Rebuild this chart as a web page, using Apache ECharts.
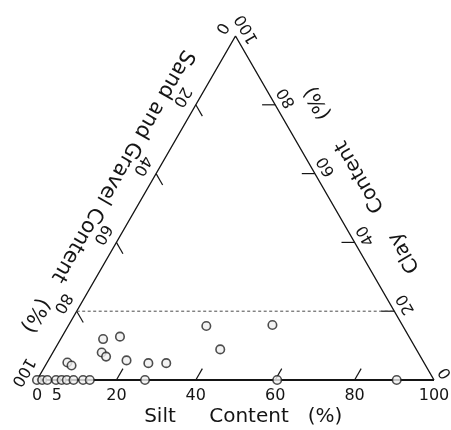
<!DOCTYPE html>
<html>
<head>
<meta charset="utf-8">
<script src="https://cdn.jsdelivr.net/npm/echarts@6/dist/echarts.min.js"></script>
<style>
  html, body { margin: 0; padding: 0; background: #fff; }
  #chart { width: 451px; height: 430px; }
</style>
</head>
<body>
<div id="chart"></div>
<script>
// Sample compositions, percent by weight (sand and gravel = 100 - silt - clay)
const siltContent = [10.7, 14.6, 12.3, 14.0, 19.7, 25.6, 30.1, 34.8, 41.7, 51.3, 5.1, 6.6,
                     0, 1.3, 2.6, 4.8, 6.2, 7.5, 9.2, 11.6, 13.3, 27.2, 60.5, 90.6];
const clayContent = [11.9, 12.6, 8.0, 6.8, 5.7, 4.9, 4.9, 15.7, 8.9, 16.0, 5.1, 4.2,
                     0, 0, 0, 0, 0, 0, 0, 0, 0, 0, 0, 0];

// Axis ticks and labels
const tickValues = [20, 40, 60, 80];
const siltLabels = [0, 5, 20, 40, 60, 80, 100];
const sandLabels = [0, 20, 40, 60, 80, 100];
const clayLabels = [0, 20, 40, 60, 80, 100];
const clayGuide = 20;

const FONT = '"DejaVu Sans", "Liberation Sans", sans-serif';
const INK = '#151515';
const TICK_LEN = 3.3;               // tick length in axis units
const ROT_LEFT = -2 * Math.PI / 3;  // text along the sand edge
const ROT_RIGHT = 2 * Math.PI / 3;  // text along the clay edge

// Ternary (silt, clay) -> plane coordinates on a 0..100 grid
function toXY(silt, clay) { return [silt + clay / 2, clay]; }
const sandEdge = a => toXY(0, 100 - a);
const clayEdge = c => toXY(100 - c, c);
const siltEdge = s => toXY(s, 0);

const samplePoints = siltContent.map((s, i) => toXY(s, clayContent[i]));

// Tick segments [x0, y0, x1, y1]
const tickSegments = [];
tickValues.forEach(v => {
  const b = siltEdge(v); tickSegments.push([b[0], b[1], b[0] + TICK_LEN / 2, b[1] + TICK_LEN]);
  const l = sandEdge(v); tickSegments.push([l[0], l[1], l[0] + TICK_LEN / 2, l[1] - TICK_LEN]);
  const r = clayEdge(v); tickSegments.push([r[0], r[1], r[0] - TICK_LEN, r[1]]);
});

// Tick labels with their pixel offset and rotation
const labelItems = [];
siltLabels.forEach(v => labelItems.push({ pos: siltEdge(v), text: String(v), dx: 0, dy: 16, rot: 0 }));
sandLabels.forEach(v => labelItems.push({ pos: sandEdge(v), text: String(v), dx: -14, dy: -8, rot: ROT_LEFT }));
clayLabels.forEach(v => labelItems.push({ pos: clayEdge(v), text: String(v), dx: 11.5, dy: -7, rot: ROT_RIGHT }));

function textEl(x, y, text, size, rot) {
  return {
    type: 'text', x: x, y: y, rotation: rot || 0,
    style: { text: text, font: size + 'px ' + FONT, fill: INK, align: 'center', verticalAlign: 'middle' }
  };
}

const chart = echarts.init(document.getElementById('chart'), null, { renderer: 'canvas' });

chart.setOption({
  animation: false,
  backgroundColor: '#fff',
  grid: { left: 37, top: 36, width: 397, height: 344 },
  xAxis: { type: 'value', min: 0, max: 100, show: false },
  yAxis: { type: 'value', min: 0, max: 100, show: false },
  series: [
    {
      // sand and clay edges
      type: 'line', symbol: 'none', silent: true,
      data: [toXY(0, 0), toXY(0, 100), toXY(100, 0)],
      lineStyle: { color: INK, width: 1.4 }
    },
    {
      // silt edge (base)
      type: 'line', symbol: 'none', silent: true,
      data: [toXY(0, 0), toXY(100, 0)],
      lineStyle: { color: INK, width: 2 }
    },
    {
      // 20 % clay guide
      type: 'line', symbol: 'none', silent: true,
      data: [toXY(0, clayGuide), toXY(100 - clayGuide, clayGuide)],
      lineStyle: { color: '#4a4a4a', width: 1, type: [3, 2.5] }
    },
    {
      type: 'custom', silent: true,
      data: tickSegments,
      renderItem: function (params, api) {
        const p0 = api.coord([api.value(0), api.value(1)]);
        const p1 = api.coord([api.value(2), api.value(3)]);
        return {
          type: 'line',
          shape: { x1: p0[0], y1: p0[1], x2: p1[0], y2: p1[1] },
          style: { stroke: INK, lineWidth: 1.2 }
        };
      }
    },
    {
      type: 'custom', silent: true,
      data: labelItems.map(d => d.pos),
      renderItem: function (params, api) {
        const d = labelItems[params.dataIndex];
        const p = api.coord([api.value(0), api.value(1)]);
        return textEl(p[0] + d.dx, p[1] + d.dy, d.text, 16, d.rot);
      }
    },
    {
      // axis titles, placed along each edge
      type: 'custom', silent: true,
      data: [toXY(0, 100)],
      renderItem: function (params, api) {
        const apex = api.coord([api.value(0), api.value(1)]);
        const bl = api.coord(toXY(0, 0));
        const u = [-0.5, 0.866], n = [-0.866, -0.5];   // sand edge
        const v = [0.5, 0.866], m = [0.866, -0.5];     // clay edge
        const along = (dir, nor, s, o) => [apex[0] + dir[0] * s + nor[0] * o, apex[1] + dir[1] * s + nor[1] * o];
        const a1 = along(u, n, 169, 33), a2 = along(u, n, 342, 34);
        const c1 = along(v, m, 272, 38), c2 = along(v, m, 184, 37.5), c3 = along(v, m, 99, 38);
        return {
          type: 'group',
          children: [
            textEl(a1[0], a1[1], 'Sand and Gravel Content', 21, ROT_LEFT),
            textEl(a2[0], a2[1], '(%)', 21, ROT_LEFT),
            textEl(c1[0], c1[1], 'Clay', 20, ROT_RIGHT),
            textEl(c2[0], c2[1], 'Content', 20, ROT_RIGHT),
            textEl(c3[0], c3[1], '(%)', 20, ROT_RIGHT),
            textEl(bl[0] + 123, bl[1] + 37, 'Silt', 20, 0),
            textEl(bl[0] + 212, bl[1] + 37, 'Content', 20, 0),
            textEl(bl[0] + 288, bl[1] + 37, '(%)', 20, 0)
          ]
        };
      }
    },
    {
      type: 'scatter',
      data: samplePoints,
      symbol: 'circle', symbolSize: 8.5,
      itemStyle: { color: '#f0f0f0', borderColor: '#222', borderWidth: 1.6 },
      z: 5
    }
  ]
});
</script>
</body>
</html>
